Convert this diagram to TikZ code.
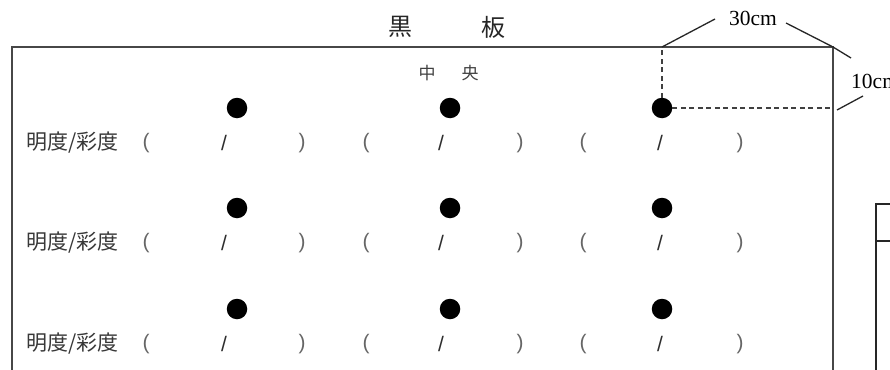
\documentclass[tikz,border=0pt]{standalone}
\usepackage{fontspec}
\newfontfamily\jp{Noto Sans CJK JP}
\newfontfamily\enserif{Liberation Serif}
\newfontfamily\ensans{Liberation Sans}
\begin{document}
\begin{tikzpicture}[x=1pt,y=-1pt,
  frame/.style={draw=black!72, line width=2.1pt},
  sidebox/.style={draw=black!85, line width=1.6pt},
  dotnode/.style={circle, fill=black, inner sep=0pt, minimum size=20.5pt},
  title/.style={font=\jp\fontsize{24}{24}\selectfont, text=black!85, inner sep=0pt},
  center/.style={font=\jp\fontsize{17}{17}\selectfont, text=black!75, inner sep=0pt},
  rowlabel/.style={font=\jp\fontsize{21}{21}\selectfont, text=black!78, inner sep=0pt, anchor=west},
  paren/.style={font=\ensans\fontsize{21}{21}\selectfont, text=black!60, inner sep=0pt},
  slashmark/.style={font=\ensans\fontsize{21}{21}\selectfont, text=black!82, inner sep=0pt},
  dimline/.style={draw=black!75, line width=1.4pt, dash pattern=on 5pt off 3.5pt},
  leader/.style={draw=black!85, line width=1.3pt},
  measure/.style={font=\enserif\fontsize{21.5}{21.5}\selectfont, text=black, inner sep=0pt}]
\fill[white] (0,0) rectangle (890,369);
\clip (0,0) rectangle (890,369);
% blackboard frame
\coordinate (bl) at (12,380);
\coordinate (tl) at (12,47);
\coordinate (tr) at (833,47);
\coordinate (br) at (833,380);
\draw[frame] (bl) -- (tl) -- (tr) -- (br);
% side box
\coordinate (sb) at (876,380);
\coordinate (st) at (876,204);
\coordinate (sm) at (876,241);
\draw[sidebox] (sb) -- (st) -- (900,204);
\draw[sidebox] (sm) -- (900,241);
% titles
\node[title] (kuro) at (400,27) {黒};
\node[title] (ban) at (493,27) {板};
\node[center] (naka) at (427,73) {中};
\node[center] (ou) at (470,73) {央};
% rows
\foreach \r/\dy in {1/108,2/208,3/309}{
  \pgfmathsetmacro{\ty}{\dy+35}
  \node[dotnode] (d\r1) at (237,\dy) {};
  \node[dotnode] (d\r2) at (450,\dy) {};
  \node[dotnode] (d\r3) at (662,\dy) {};
  \node[rowlabel] (lab\r) at (26,\ty) {明度/彩度};
  \node[paren] (o\r1) at (146,\ty) {(};
  \node[slashmark] (s\r1) at (224,\ty) {/};
  \node[paren] (c\r1) at (302,\ty) {)};
  \node[paren] (o\r2) at (366,\ty) {(};
  \node[slashmark] (s\r2) at (441,\ty) {/};
  \node[paren] (c\r2) at (520,\ty) {)};
  \node[paren] (o\r3) at (583,\ty) {(};
  \node[slashmark] (s\r3) at (660,\ty) {/};
  \node[paren] (c\r3) at (740,\ty) {)};
}
% dimension lines
\coordinate (topmark) at (662,47);
\coordinate (sidemark) at (833,108);
\draw[dimline] (d13.north) -- (topmark);
\draw[dimline] (d13.east) -- (sidemark);
% measurement labels and leaders
\node[measure] (m30) at (753,18) {30cm};
\node[measure, anchor=west] (m10) at (851,81) {10cm};
\coordinate (a30l) at (715,19);
\coordinate (a30r) at (786,23);
\coordinate (a10t) at (851,58);
\coordinate (a10b) at (863,96);
\coordinate (b10b) at (837,110);
\draw[leader] (topmark) -- (a30l);
\draw[leader] (a30r) -- (tr) -- (a10t);
\draw[leader] (b10b) -- (a10b);
\end{tikzpicture}
\end{document}
